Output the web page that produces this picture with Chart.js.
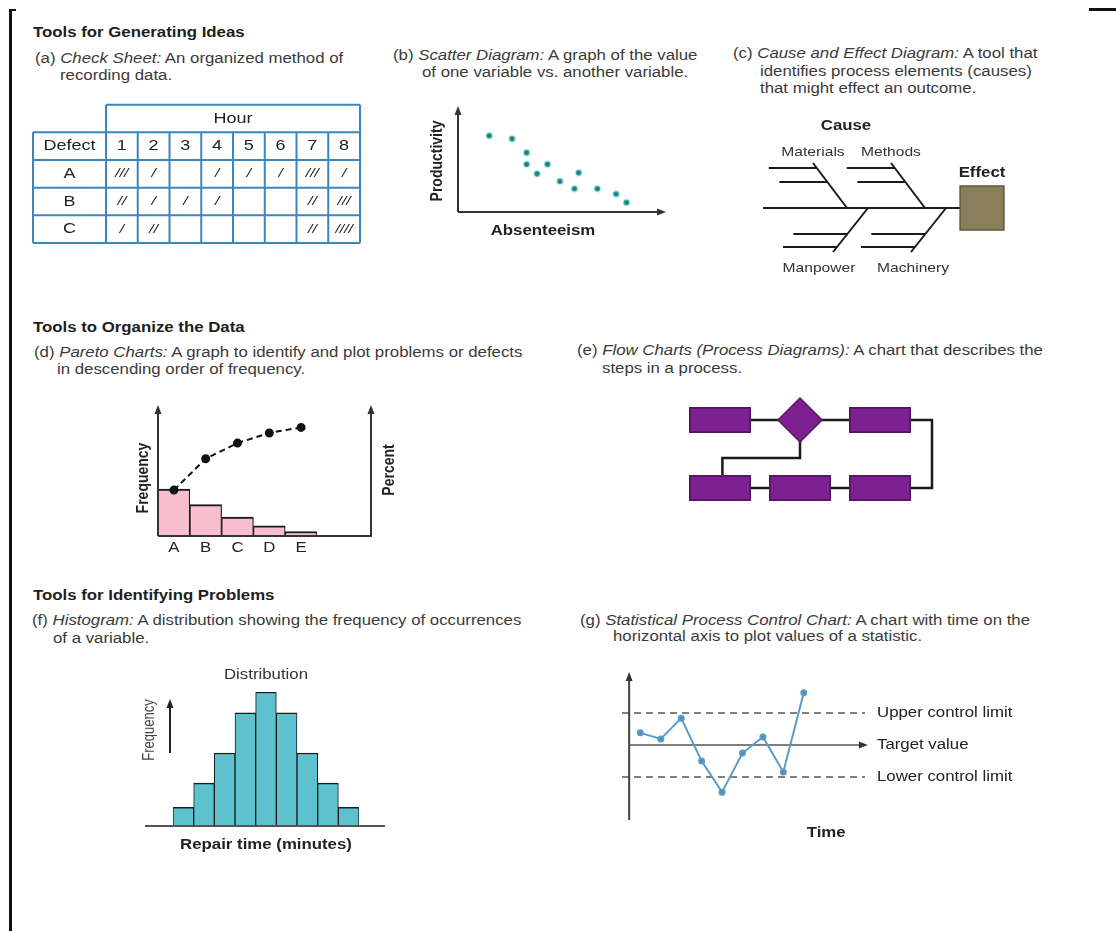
<!DOCTYPE html>
<html>
<head>
<meta charset="utf-8">
<script src="https://cdn.jsdelivr.net/npm/chart.js@4/dist/chart.umd.min.js"></script>
<style>
  body { margin: 0; width: 1116px; height: 931px; background: #fff; position: relative; overflow: hidden;
         font-family: "Liberation Sans", Arial, sans-serif; color: #3a3a3a; }
  .t { position: absolute; white-space: nowrap; font-size: 14px; line-height: 18px; transform: scaleX(1.2); transform-origin: 0 50%; }
  .h { font-weight: bold; color: #1e1e1e; }
  canvas { position: absolute; }
  .rule { position: absolute; background: #111; }
</style>
</head>
<body>
<div class="rule" style="left:9px;top:9px;width:3px;height:922px"></div>
<div class="rule" style="left:9px;top:9px;width:7px;height:2px"></div>
<div class="rule" style="left:1089px;top:8px;width:27px;height:3px"></div>

<div class="t h" style="left:33px;top:23px">Tools for Generating Ideas</div>
<div class="t" style="left:35px;top:49px">(a) <i>Check Sheet:</i> An organized method of</div>
<div class="t" style="left:60px;top:66px">recording data.</div>

<div class="t" style="left:393px;top:46px">(b) <i>Scatter Diagram:</i> A graph of the value</div>
<div class="t" style="left:422px;top:63px">of one variable vs. another variable.</div>

<div class="t" style="left:733px;top:44px">(c) <i>Cause and Effect Diagram:</i> A tool that</div>
<div class="t" style="left:760px;top:62px">identifies process elements (causes)</div>
<div class="t" style="left:760px;top:79px">that might effect an outcome.</div>

<div class="t h" style="left:33px;top:318px">Tools to Organize the Data</div>
<div class="t" style="left:34px;top:343px">(d) <i>Pareto Charts:</i> A graph to identify and plot problems or defects</div>
<div class="t" style="left:57px;top:360px">in descending order of frequency.</div>

<div class="t" style="left:577px;top:341px">(e) <i>Flow Charts (Process Diagrams):</i> A chart that describes the</div>
<div class="t" style="left:602px;top:359px">steps in a process.</div>

<div class="t h" style="left:33px;top:586px">Tools for Identifying Problems</div>
<div class="t" style="left:32px;top:611px">(f) <i>Histogram:</i> A distribution showing the frequency of occurrences</div>
<div class="t" style="left:53px;top:629px">of a variable.</div>

<div class="t" style="left:580px;top:611px">(g) <i>Statistical Process Control Chart:</i> A chart with time on the</div>
<div class="t" style="left:613px;top:627px">horizontal axis to plot values of a statistic.</div>

<canvas id="checkSheet" width="350" height="160" style="left:20px;top:95px"></canvas>
<canvas id="scatter" width="270" height="150" style="left:420px;top:95px"></canvas>
<canvas id="fishbone" width="290" height="170" style="left:740px;top:110px"></canvas>
<canvas id="pareto" width="300" height="170" style="left:110px;top:395px"></canvas>
<canvas id="flow" width="280" height="125" style="left:670px;top:390px"></canvas>
<canvas id="histogram" width="270" height="200" style="left:130px;top:660px"></canvas>
<canvas id="spc" width="430" height="185" style="left:600px;top:665px"></canvas>

<script>
// (a) check sheet: tally counts per hour
const hours = ['1', '2', '3', '4', '5', '6', '7', '8'];
const defects = ['A', 'B', 'C'];
const tallyA = [3, 1, 0, 1, 1, 1, 3, 1];
const tallyB = [2, 1, 1, 1, 0, 0, 2, 3];
const tallyC = [1, 2, 0, 0, 0, 0, 2, 4];

// (b) scatter diagram
const absenteeism = [1.5, 2.6, 3.3, 3.3, 4.3, 3.8, 5.8, 4.9, 5.6, 6.7, 7.6, 8.1];
const productivity = [7.2, 6.9, 5.6, 4.5, 4.5, 3.6, 3.7, 2.9, 2.2, 2.2, 1.7, 0.9];

// (c) cause and effect
const causesTop = ['Materials', 'Methods'];
const causesBottom = ['Manpower', 'Machinery'];

// (d) pareto
const paretoCats = ['A', 'B', 'C', 'D', 'E'];
const paretoFreq = [42, 28, 17, 9, 4];
const paretoPct = [41, 69, 83, 92, 97];

// (e) flow chart (grid cells: column, row)
const flowBoxes = [[0, 0], [2, 0], [0, 1], [1, 1], [2, 1]];
const flowDecisions = [[1, 0]];
const flowLinks = [
    [[0, 0], [2, 0]],
    [[2, 0], [2.65, 0], [2.65, 1], [2, 1]],
    [[1, 0], [1, 0.56], [0.03, 0.56], [0.03, 1]],
    [[0, 1], [2, 1]]
];

// (f) histogram
const repairBins = ['1', '2', '3', '4', '5', '6', '7', '8', '9'];
const repairFreq = [2.8, 6.4, 10.9, 16.9, 20, 16.9, 10.9, 6.4, 2.8];

// (g) control chart
const spcTime = [1, 2, 3, 4, 5, 6, 7, 8, 9];
const spcValues = [0.38, 0.19, 0.84, -0.5, -1.47, -0.25, 0.25, -0.84, 1.63];
const upperLimit = 1;
const targetValue = 0;
const lowerLimit = -1;

const SX = 1.2;
const FONT = '"Liberation Sans", Arial, sans-serif';
const INK = '#222';

Chart.defaults.font.family = FONT;
Chart.defaults.animation = false;
Chart.defaults.responsive = false;
Chart.defaults.layout.autoPadding = false;
Chart.defaults.plugins.legend.display = false;
Chart.defaults.plugins.tooltip.enabled = false;

function txt(ctx, s, x, y, font, align, color) {
    ctx.save();
    ctx.font = font;
    ctx.fillStyle = color || INK;
    ctx.textAlign = align || 'center';
    ctx.textBaseline = 'middle';
    ctx.translate(x, y);
    ctx.scale(SX, 1);
    ctx.fillText(s, 0, 0);
    ctx.restore();
}

function vtxt(ctx, s, x, y, font, color) {
    ctx.save();
    ctx.font = font;
    ctx.fillStyle = color || INK;
    ctx.textAlign = 'center';
    ctx.textBaseline = 'middle';
    ctx.translate(x, y);
    ctx.rotate(-Math.PI / 2);
    ctx.scale(1, SX);
    ctx.fillText(s, 0, 0);
    ctx.restore();
}

function line(ctx, x1, y1, x2, y2, color, w) {
    ctx.save();
    ctx.strokeStyle = color;
    ctx.lineWidth = w;
    ctx.beginPath();
    ctx.moveTo(x1, y1);
    ctx.lineTo(x2, y2);
    ctx.stroke();
    ctx.restore();
}

function arrow(ctx, x, y, dir, color) {
    ctx.save();
    ctx.fillStyle = color;
    ctx.beginPath();
    if (dir === 'up') {
        ctx.moveTo(x, y); ctx.lineTo(x - 3.5, y + 9); ctx.lineTo(x + 3.5, y + 9);
    } else {
        ctx.moveTo(x, y); ctx.lineTo(x - 9, y - 3.5); ctx.lineTo(x - 9, y + 3.5);
    }
    ctx.closePath();
    ctx.fill();
    ctx.restore();
}

const hidden = { display: false };

// (a) Check sheet
const tallies = [tallyA, tallyB, tallyC];
new Chart(document.getElementById('checkSheet'), {
    type: 'scatter',
    data: { datasets: [] },
    options: {
        layout: { padding: { left: 86, right: 10, top: 65, bottom: 12 } },
        scales: {
            x: { type: 'category', labels: hours, offset: true, display: false },
            y: { type: 'category', labels: defects, offset: true, display: false }
        }
    },
    plugins: [{
        id: 'checkSheet',
        afterDraw(chart) {
            const { ctx, chartArea: a, scales: { x, y } } = chart;
            const cw = (a.right - a.left) / hours.length;
            const rh = (a.bottom - a.top) / defects.length;
            const lw = 73;
            const x0 = a.left - lw;
            ctx.save();
            ctx.strokeStyle = '#3b87bd';
            ctx.lineWidth = 2;
            ctx.beginPath();
            ctx.moveTo(a.left, a.top - 2 * rh); ctx.lineTo(a.right, a.top - 2 * rh);
            for (let k = -1; k <= defects.length; k++) {
                ctx.moveTo(x0, a.top + k * rh); ctx.lineTo(a.right, a.top + k * rh);
            }
            ctx.moveTo(x0, a.top - rh); ctx.lineTo(x0, a.bottom);
            for (let j = 0; j <= hours.length; j++) {
                const xx = a.left + j * cw;
                const top = (j === 0 || j === hours.length) ? a.top - 2 * rh : a.top - rh;
                ctx.moveTo(xx, top); ctx.lineTo(xx, a.bottom);
            }
            ctx.stroke();
            ctx.restore();

            const f = '15px ' + FONT;
            txt(ctx, 'Hour', (a.left + a.right) / 2, a.top - 1.5 * rh, f);
            txt(ctx, 'Defect', x0 + lw / 2, a.top - rh / 2, f);
            hours.forEach((h, i) => txt(ctx, h, x.getPixelForValue(i), a.top - rh / 2, f));
            defects.forEach((d, r) => {
                const yy = y.getPixelForValue(r);
                txt(ctx, d, x0 + lw / 2, yy, f);
                tallies[r].forEach((n, i) => {
                    if (n) txt(ctx, '/'.repeat(n), x.getPixelForValue(i), yy, 'italic 13px ' + FONT);
                });
            });
        }
    }]
});

// (b) Scatter diagram
new Chart(document.getElementById('scatter'), {
    type: 'scatter',
    data: {
        datasets: [{
            data: absenteeism.map((v, i) => ({ x: v, y: productivity[i] })),
            pointRadius: 2.8,
            backgroundColor: '#1f7d78',
            borderColor: 'rgba(90, 215, 205, 0.45)',
            borderWidth: 2
        }]
    },
    options: {
        layout: { padding: { left: 38, right: 24, top: 11, bottom: 33 } },
        scales: { x: { display: false, min: 0, max: 10 }, y: { display: false, min: 0, max: 10 } }
    },
    plugins: [{
        id: 'scatterAxes',
        afterDraw(chart) {
            const { ctx, chartArea: a } = chart;
            line(ctx, a.left, a.bottom, a.left, a.top + 6, '#333', 2);
            line(ctx, a.left, a.bottom, a.right - 6, a.bottom, '#333', 2);
            arrow(ctx, a.left, a.top, 'up', '#333');
            arrow(ctx, a.right, a.bottom, 'right', '#333');
            vtxt(ctx, 'Productivity', a.left - 21, (a.top + a.bottom) / 2 + 2, 'bold 14px ' + FONT);
            txt(ctx, 'Absenteeism', a.left + 85, a.bottom + 19, 'bold 14px ' + FONT);
        }
    }]
});

// (c) Cause and effect diagram
const bones = [[[23, 98], [220, 98]]];
const boneLabels = [];
causesTop.forEach((c, i) => {
    const xa = 107 + i * 78;
    bones.push([[xa, 98], [xa - 34, 53]]);
    [58, 72].forEach(yy => {
        const xd = xa - 34 * (98 - yy) / 45;
        bones.push([[xd - 48, yy], [xd, yy]]);
    });
    boneLabels.push([c, xa - 34, 42]);
});
causesBottom.forEach((c, i) => {
    const xa = 128 + i * 78;
    bones.push([[xa, 98], [xa - 35, 142]]);
    [124, 137].forEach(yy => {
        const xd = xa - 35 * (yy - 98) / 44;
        bones.push([[xd - 54, yy], [xd, yy]]);
    });
    boneLabels.push([c, xa - 49 + i * 16, 158]);
});
new Chart(document.getElementById('fishbone'), {
    type: 'scatter',
    data: {
        datasets: bones.map(b => ({
            data: b.map(p => ({ x: p[0], y: p[1] })),
            showLine: true, pointRadius: 0, borderColor: '#1a1a1a', borderWidth: 2, order: 1
        })).concat([{
            data: [{ x: 242, y: 98 }],
            pointStyle: 'rect', pointRadius: 31,
            backgroundColor: '#8b7f5b', borderColor: '#615839', borderWidth: 1.5, order: 0
        }])
    },
    options: {
        scales: { x: { display: false, min: 0, max: 290 }, y: { display: false, min: 0, max: 170, reverse: true } }
    },
    plugins: [{
        id: 'fishLabels',
        afterDraw(chart) {
            const { ctx, scales: { x, y } } = chart;
            const f = '13px ' + FONT;
            boneLabels.forEach(([s, px, py]) => txt(ctx, s, x.getPixelForValue(px), y.getPixelForValue(py), f, 'center', '#333'));
            txt(ctx, 'Cause', x.getPixelForValue(106), y.getPixelForValue(16), 'bold 14px ' + FONT);
            txt(ctx, 'Effect', x.getPixelForValue(242), y.getPixelForValue(63), 'bold 14px ' + FONT);
        }
    }]
});

// (d) Pareto chart
new Chart(document.getElementById('pareto'), {
    type: 'bar',
    data: {
        labels: paretoCats,
        datasets: [{
            type: 'line', data: paretoPct, yAxisID: 'yPct',
            borderColor: '#111', borderWidth: 2, borderDash: [6, 4],
            pointRadius: 3.5, pointBackgroundColor: '#111', pointBorderColor: '#111', order: 0
        }, {
            data: paretoFreq, yAxisID: 'y',
            backgroundColor: '#f7bfcd', borderColor: '#1a1a1a',
            borderWidth: { top: 2, left: 1.2, right: 1.2, bottom: 0 },
            barPercentage: 1, categoryPercentage: 1, order: 1
        }]
    },
    options: {
        layout: { padding: { left: 48, right: 93, top: 10, bottom: 29 } },
        scales: {
            x: hidden,
            y: { display: false, min: 0, max: 117 },
            yPct: { display: false, min: 0, max: 117, position: 'right' }
        }
    },
    plugins: [{
        id: 'paretoAxes',
        afterDraw(chart) {
            const { ctx, chartArea: a, scales: { x } } = chart;
            const rx = a.right + 54;
            line(ctx, a.left, a.bottom, a.left, a.top + 6, '#333', 2);
            line(ctx, rx, a.bottom, rx, a.top + 6, '#333', 2);
            line(ctx, a.left, a.bottom, rx + 1, a.bottom, '#333', 2);
            arrow(ctx, a.left, a.top, 'up', '#333');
            arrow(ctx, rx, a.top, 'up', '#333');
            paretoCats.forEach((c, i) => txt(ctx, c, x.getPixelForValue(i), a.bottom + 12, '14px ' + FONT));
            vtxt(ctx, 'Frequency', a.left - 15, a.bottom - 58, 'bold 14px ' + FONT);
            vtxt(ctx, 'Percent', rx + 18, a.bottom - 66, 'bold 14px ' + FONT);
        }
    }]
});

// (e) Flow chart
const boxImg = document.createElement('canvas');
boxImg.width = 62; boxImg.height = 26;
const bctx = boxImg.getContext('2d');
bctx.fillStyle = '#7e2190';
bctx.fillRect(0, 0, 62, 26);
bctx.strokeStyle = '#5a1468';
bctx.lineWidth = 2;
bctx.strokeRect(1, 1, 60, 24);
new Chart(document.getElementById('flow'), {
    type: 'scatter',
    data: {
        datasets: flowLinks.map(l => ({
            data: l.map(p => ({ x: p[0], y: p[1] })),
            showLine: true, pointRadius: 0, borderColor: '#1a1a1a', borderWidth: 2.5, order: 2
        })).concat([{
            data: flowBoxes.map(p => ({ x: p[0], y: p[1] })),
            pointStyle: boxImg, pointRadius: 12, order: 0
        }, {
            data: flowDecisions.map(p => ({ x: p[0], y: p[1] })),
            pointStyle: 'rectRot', pointRadius: 22,
            backgroundColor: '#7e2190', borderColor: '#5a1468', borderWidth: 1.5, order: 0
        }])
    },
    options: {
        scales: {
            x: { display: false, min: -0.625, max: 2.875 },
            y: { display: false, min: -0.441, max: 1.397, reverse: true }
        }
    }
});

// (f) Histogram
new Chart(document.getElementById('histogram'), {
    type: 'bar',
    data: {
        labels: repairBins,
        datasets: [{
            data: repairFreq,
            backgroundColor: '#5ec2ce', borderColor: '#1a1a1a',
            borderWidth: { top: 1.5, left: 1, right: 1, bottom: 0 },
            barPercentage: 1, categoryPercentage: 1
        }]
    },
    options: {
        layout: { padding: { left: 43, right: 41, top: 32, bottom: 34 } },
        scales: { x: hidden, y: { display: false, min: 0, max: 20 } }
    },
    plugins: [{
        id: 'histAxes',
        afterDraw(chart) {
            const { ctx, chartArea: a } = chart;
            const mid = (a.left + a.right) / 2;
            line(ctx, a.left - 28, a.bottom, a.right + 26, a.bottom, '#555', 2);
            txt(ctx, 'Distribution', mid, a.top - 17, '14px ' + FONT, 'center', '#333');
            txt(ctx, 'Repair time (minutes)', mid, a.bottom + 19, 'bold 14px ' + FONT);
            vtxt(ctx, 'Frequency', a.left - 23, a.bottom - 96, '13px ' + FONT, '#444');
            line(ctx, a.left - 3, a.bottom - 73, a.left - 3, a.bottom - 120, '#222', 2);
            arrow(ctx, a.left - 3, a.bottom - 127, 'up', '#222');
        }
    }]
});

// (g) Statistical process control chart
const X_MIN = 0.1, X_MAX = 12, AXIS_X = 0.45;
new Chart(document.getElementById('spc'), {
    type: 'scatter',
    data: {
        datasets: [{
            data: spcValues.map((v, i) => ({ x: spcTime[i], y: v })),
            showLine: true, borderColor: '#5b9ac6', backgroundColor: '#4f8dbb',
            borderWidth: 2, pointRadius: 2.5, order: 0
        }, {
            data: [{ x: X_MIN, y: upperLimit }, { x: X_MAX, y: upperLimit }],
            showLine: true, pointRadius: 0, borderColor: '#555', borderWidth: 1.5, borderDash: [7, 5], order: 1
        }, {
            data: [{ x: X_MIN, y: lowerLimit }, { x: X_MAX, y: lowerLimit }],
            showLine: true, pointRadius: 0, borderColor: '#555', borderWidth: 1.5, borderDash: [7, 5], order: 1
        }, {
            data: [{ x: AXIS_X, y: targetValue }, { x: 11.75, y: targetValue }],
            showLine: true, pointRadius: 0, borderColor: '#555', borderWidth: 1.5, order: 1
        }]
    },
    options: {
        layout: { padding: { left: 22, right: 165, top: 7, bottom: 30 } },
        scales: { x: { display: false, min: X_MIN, max: X_MAX }, y: { display: false, min: -2.34, max: 2.28 } }
    },
    plugins: [{
        id: 'spcAxes',
        afterDraw(chart) {
            const { ctx, chartArea: a, scales: { x, y } } = chart;
            const ax = x.getPixelForValue(AXIS_X);
            line(ctx, ax, a.bottom, ax, a.top + 6, '#444', 2);
            arrow(ctx, ax, a.top, 'up', '#333');
            arrow(ctx, x.getPixelForValue(11.75) + 8, y.getPixelForValue(targetValue), 'right', '#333');
            const f = '14px ' + FONT;
            const lx = a.right + 12;
            txt(ctx, 'Upper control limit', lx, y.getPixelForValue(upperLimit), f, 'left');
            txt(ctx, 'Target value', lx, y.getPixelForValue(targetValue), f, 'left');
            txt(ctx, 'Lower control limit', lx, y.getPixelForValue(lowerLimit), f, 'left');
            txt(ctx, 'Time', x.getPixelForValue(10.1), a.bottom + 13, 'bold 14px ' + FONT);
        }
    }]
});
</script>
</body>
</html>
